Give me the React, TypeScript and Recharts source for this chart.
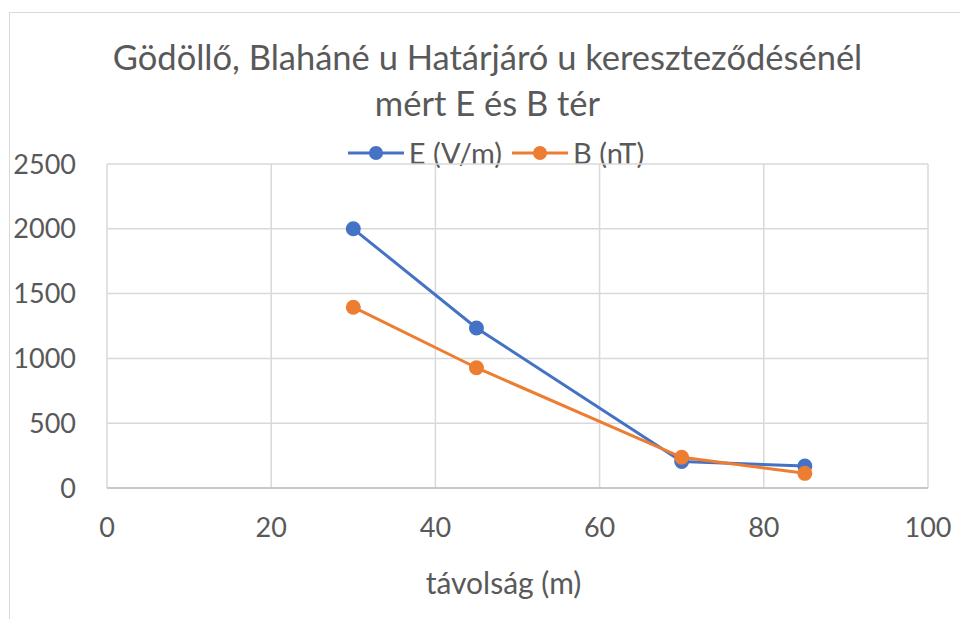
import { CartesianGrid, Scatter, ScatterChart, XAxis, YAxis } from "recharts";

const distances = [30, 45, 70, 85];
const eField = [2000, 1235, 205, 170];
const bField = [1395, 928, 237, 113];
const xTicks = [0, 20, 40, 60, 80, 100];
const yTicks = [0, 500, 1000, 1500, 2000, 2500];

const titleLines = ["Gödöllő, Blaháné u Határjáró u kereszteződésénél", "mért E és B tér"];
const seriesNames = ["E (V/m)", "B (nT)"];
const colors = ["#4472C4", "#ED7D31"];

const eData = distances.map((x, i) => ({ x, y: eField[i] }));
const bData = distances.map((x, i) => ({ x, y: bField[i] }));

const FONT = "Lato, 'Open Sans', sans-serif";
const TEXT = "#595959";

function Dot(props: any) {
  const { cx, cy, fill } = props;
  return <circle cx={cx} cy={cy} r={7.5} fill={fill} />;
}

export default function App() {
  return (
    <div
      style={{
        position: "absolute",
        left: 0,
        top: 0,
        width: 960,
        height: 619,
        background: "#fff",
        overflow: "hidden",
        fontFamily: FONT,
      }}
    >
      {/* chart frame, only left and top edges show */}
      <div
        style={{
          position: "absolute",
          left: 9,
          top: 12,
          width: 1000,
          height: 700,
          borderLeft: "1.5px solid #d9d9d9",
          borderTop: "1.5px solid #d9d9d9",
        }}
      />
      <div
        style={{
          position: "absolute",
          left: 0,
          width: 975,
          top: 34,
          textAlign: "center",
          color: TEXT,
          fontSize: 34.5,
          lineHeight: "46px",
        }}
      >
        {titleLines.map((t) => (
          <div key={t}>{t}</div>
        ))}
      </div>
      <div
        style={{
          position: "absolute",
          left: 0,
          width: 992,
          top: 136,
          display: "flex",
          justifyContent: "center",
          gap: 10,
          color: TEXT,
          fontSize: 29,
          lineHeight: "34px",
        }}
      >
        {seriesNames.map((name, i) => (
          <div key={name} style={{ display: "flex", alignItems: "center", gap: 5 }}>
            <svg width={56} height={20}>
              <line x1={0} y1={10} x2={56} y2={10} stroke={colors[i]} strokeWidth={3} />
              <circle cx={28} cy={10} r={7} fill={colors[i]} />
            </svg>
            <span>{name}</span>
          </div>
        ))}
      </div>
      <div style={{ position: "absolute", left: 0, top: 0 }}>
        <ScatterChart width={960} height={619} margin={{ top: 164, right: 32, bottom: 21, left: 17 }}>
          <CartesianGrid stroke="#d9d9d9" strokeWidth={1.5} />
          <XAxis
            type="number"
            dataKey="x"
            domain={[0, 100]}
            ticks={xTicks}
            tickLine={false}
            axisLine={{ stroke: "#bfbfbf", strokeWidth: 1.5 }}
            tick={{ fill: TEXT, fontSize: 27, fontFamily: FONT }}
            tickMargin={24}
            height={110}
            label={{
              value: "távolság (m)",
              position: "insideBottom",
              offset: 4,
              dx: -14,
              fill: TEXT,
              fontSize: 30,
              fontFamily: FONT,
            }}
          />
          <YAxis
            type="number"
            dataKey="y"
            domain={[0, 2500]}
            ticks={yTicks}
            tickLine={false}
            axisLine={false}
            tick={{ fill: TEXT, fontSize: 27, fontFamily: FONT }}
            tickMargin={25}
            width={90}
          />
          <Scatter
            name={seriesNames[0]}
            data={eData}
            fill={colors[0]}
            line={{ stroke: colors[0], strokeWidth: 3 }}
            shape={<Dot />}
            isAnimationActive={false}
          />
          <Scatter
            name={seriesNames[1]}
            data={bData}
            fill={colors[1]}
            line={{ stroke: colors[1], strokeWidth: 3 }}
            shape={<Dot />}
            isAnimationActive={false}
          />
        </ScatterChart>
      </div>
    </div>
  );
}
